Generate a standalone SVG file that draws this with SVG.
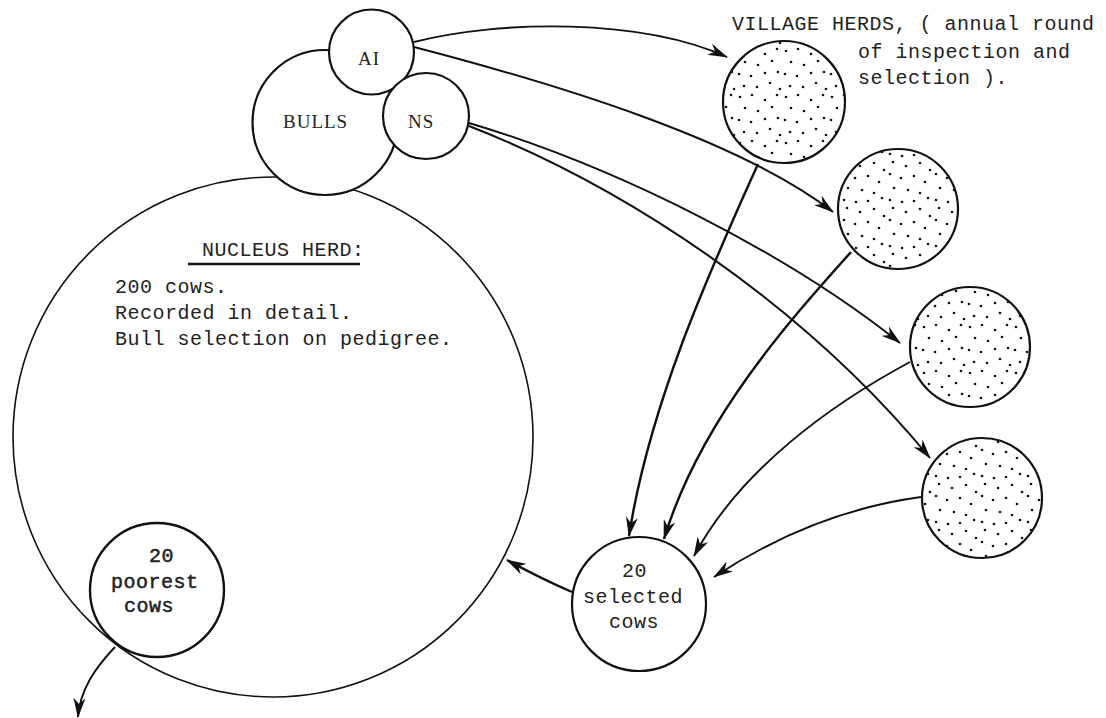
<svg xmlns="http://www.w3.org/2000/svg" width="1106" height="718" viewBox="0 0 1106 718">
<style>
  .c{fill:#fff;stroke:#111;stroke-width:2.2}
  .big{fill:#fff;stroke:#111;stroke-width:1.6}
  .herd{fill:url(#dots);stroke:#111;stroke-width:2.2}
  .herd2{fill:url(#dots2);stroke:#111;stroke-width:2.2}
  .tw{font-family:"Liberation Mono","DejaVu Sans Mono",monospace;font-size:20px;letter-spacing:0.5px;fill:#222}
  .sf{font-family:"Liberation Serif","DejaVu Serif",serif;font-size:19px;letter-spacing:1px;fill:#222}
  .conn path{fill:none;stroke:#111;stroke-width:1.9}
  .conn path.thick{stroke-width:2.4}
</style>
<defs>
  <marker id="ah" viewBox="0 0 20 12" refX="19" refY="6" markerWidth="20" markerHeight="12" markerUnits="userSpaceOnUse" orient="auto">
    <path d="M0,0 L20,6 L0,12 L6,6 z" fill="#111"/>
  </marker>
  <pattern id="dots" width="46" height="46" patternUnits="userSpaceOnUse">
    <rect width="46" height="46" fill="#fff"/>
    <g fill="#111">
      <circle cx="4" cy="5" r="1.3"/><circle cx="16" cy="3" r="1.3"/><circle cx="29" cy="8" r="1.3"/><circle cx="41" cy="3" r="1.3"/>
      <circle cx="9" cy="16" r="1.3"/><circle cx="22" cy="19" r="1.3"/><circle cx="36" cy="15" r="1.3"/>
      <circle cx="3" cy="28" r="1.3"/><circle cx="15" cy="30" r="1.3"/><circle cx="29" cy="27" r="1.3"/><circle cx="42" cy="26" r="1.3"/>
      <circle cx="8" cy="40" r="1.3"/><circle cx="21" cy="41" r="1.3"/><circle cx="34" cy="37" r="1.3"/><circle cx="44" cy="43" r="1.3"/>
    </g>
  </pattern>
  <pattern id="dots2" width="46" height="46" patternUnits="userSpaceOnUse" patternTransform="translate(13 21)">
    <rect width="46" height="46" fill="#fff"/>
    <g fill="#111">
      <circle cx="6" cy="3" r="1.3"/><circle cx="19" cy="7" r="1.3"/><circle cx="33" cy="4" r="1.3"/><circle cx="43" cy="11" r="1.3"/>
      <circle cx="3" cy="15" r="1.3"/><circle cx="14" cy="19" r="1.3"/><circle cx="27" cy="17" r="1.3"/><circle cx="38" cy="23" r="1.3"/>
      <circle cx="7" cy="29" r="1.3"/><circle cx="21" cy="31" r="1.3"/><circle cx="33" cy="34" r="1.3"/>
      <circle cx="3" cy="41" r="1.3"/><circle cx="15" cy="43" r="1.3"/><circle cx="27" cy="42" r="1.3"/><circle cx="41" cy="39" r="1.3"/>
    </g>
  </pattern>
</defs>
<rect width="1106" height="718" fill="#fff"/>

<g id="nucleus-herd">
  <circle class="big" cx="273" cy="437" r="260"/>
  <text class="tw" x="202" y="256">NUCLEUS HERD:</text>
  <line x1="188" y1="264" x2="360" y2="264" stroke="#111" stroke-width="2.4"/>
  <text class="tw" x="115" y="293">200 cows.</text>
  <text class="tw" x="115" y="319">Recorded in detail.</text>
  <text class="tw" x="115" y="345">Bull selection on pedigree.</text>
</g>

<g id="bulls">
  <circle class="c" cx="325" cy="122.5" r="72.5"/>
  <text class="sf" x="283" y="128">BULLS</text>
</g>
<g id="ai">
  <circle class="c" cx="371.5" cy="52" r="42.5"/>
  <text class="sf" x="358" y="65">AI</text>
</g>
<g id="ns">
  <circle class="c" cx="426" cy="116" r="43"/>
  <text class="sf" x="408" y="128">NS</text>
</g>

<g id="poorest-cows">
  <circle cx="157" cy="590" r="67" fill="none" stroke="#111" stroke-width="2.4"/>
  <text class="tw" x="149" y="562" stroke="#222" stroke-width="0.5">20</text>
  <text class="tw" x="111" y="588" stroke="#222" stroke-width="0.5">poorest</text>
  <text class="tw" x="124" y="612" stroke="#222" stroke-width="0.5">cows</text>
</g>

<g id="selected-cows">
  <circle class="c" cx="639" cy="604" r="67"/>
  <text class="tw" x="622" y="577">20</text>
  <text class="tw" x="583" y="603">selected</text>
  <text class="tw" x="609" y="628">cows</text>
</g>

<g id="village-herd-1"><circle class="herd" cx="784" cy="102" r="61"/></g>
<g id="village-herd-2"><circle class="herd2" cx="898" cy="209" r="60"/></g>
<g id="village-herd-3"><circle class="herd" cx="970" cy="347" r="60"/></g>
<g id="village-herd-4"><circle class="herd2" cx="982" cy="498" r="60"/></g>

<g id="village-label">
  <text class="tw" x="732" y="30">VILLAGE HERDS, ( annual round</text>
  <text class="tw" x="858" y="58">of inspection and</text>
  <text class="tw" x="858" y="84">selection ).</text>
</g>

<g id="connectors" class="conn">
  <path d="M414,42 C500,20 640,18 727,57" marker-end="url(#ah)"/>
  <path d="M414,47 C560,85 740,140 833,212" marker-end="url(#ah)"/>
  <path d="M469,123 C620,168 790,255 900,343" marker-end="url(#ah)"/>
  <path d="M469,126 C620,185 800,300 930,458" marker-end="url(#ah)"/>
  <path class="thick" d="M758,164 C715,260 650,400 629,536" marker-end="url(#ah)"/>
  <path class="thick" d="M851,252 C790,320 700,420 664,539" marker-end="url(#ah)"/>
  <path d="M910,362 C830,405 740,470 694,556" marker-end="url(#ah)"/>
  <path d="M921,497 C840,508 770,540 714,577" marker-end="url(#ah)"/>
  <path class="thick" d="M572,592 Q540,578 507,560" marker-end="url(#ah)"/>
  <path d="M115,647 C95,668 80,690 78,717" marker-end="url(#ah)"/>
</g>
</svg>
